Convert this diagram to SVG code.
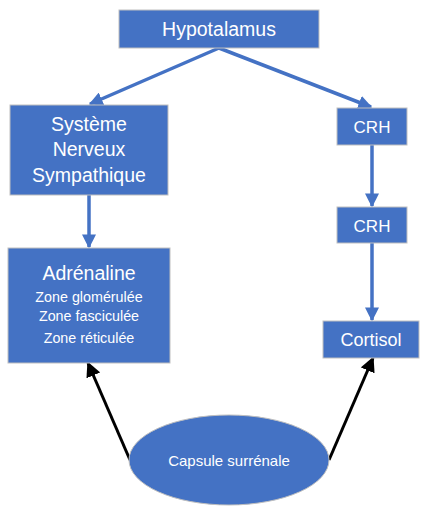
<svg xmlns="http://www.w3.org/2000/svg" width="429" height="511" viewBox="0 0 429 511">
<style>
.box{fill:#4472C4;stroke:#BFBFBF;stroke-width:1}
.t{fill:#FFFFFF;font-family:"Liberation Sans",Arial,sans-serif;text-anchor:middle}
.b{stroke:#4472C4;stroke-width:3.5;fill:none}
.k{stroke:#000000;stroke-width:3;fill:none}
</style>
<defs>
<marker id="ab" viewBox="0 0 10 10" refX="9" refY="5" markerWidth="4" markerHeight="4" orient="auto" markerUnits="strokeWidth"><path d="M0,0 L10,5 L0,10 z" fill="#4472C4"/></marker>
<marker id="ak" viewBox="0 0 10 10" refX="9" refY="5" markerWidth="5" markerHeight="5" orient="auto" markerUnits="strokeWidth"><path d="M0,0 L10,5 L0,10 z" fill="#000000"/></marker>
</defs>
<rect width="429" height="511" fill="#FFFFFF"/>
<g id="connectors">
<line class="b" x1="219" y1="48" x2="90" y2="104" marker-end="url(#ab)"/>
<line class="b" x1="219" y1="48" x2="371" y2="107" marker-end="url(#ab)"/>
<line class="b" x1="89" y1="195" x2="89" y2="247" marker-end="url(#ab)"/>
<line class="b" x1="372" y1="145" x2="372" y2="206" marker-end="url(#ab)"/>
<line class="b" x1="372" y1="243" x2="372" y2="320" marker-end="url(#ab)"/>
<line class="k" x1="130" y1="460" x2="88" y2="363" marker-end="url(#ak)"/>
<line class="k" x1="329" y1="460" x2="373" y2="358" marker-end="url(#ak)"/>
</g>
<g id="hypotalamus">
<rect class="box" x="119" y="10" width="200" height="38"/>
<text class="t" x="219" y="36" font-size="19.5">Hypotalamus</text>
</g>
<g id="systeme">
<rect class="box" x="10" y="105" width="158" height="90"/>
<text class="t" x="89" y="131" font-size="19.5">Système</text>
<text class="t" x="89" y="156" font-size="19.5">Nerveux</text>
<text class="t" x="89" y="182" font-size="19.5">Sympathique</text>
</g>
<g id="adrenaline">
<rect class="box" x="8" y="248" width="162" height="115"/>
<text class="t" x="89" y="280" font-size="19.5">Adrénaline</text>
<text class="t" x="89" y="302" font-size="14.3">Zone glomérulée</text>
<text class="t" x="89" y="321" font-size="14.3">Zone fasciculée</text>
<text class="t" x="89" y="343" font-size="14.3">Zone réticulée</text>
</g>
<g id="crh1">
<rect class="box" x="337" y="108" width="70" height="37"/>
<text class="t" x="372" y="133" font-size="17">CRH</text>
</g>
<g id="crh2">
<rect class="box" x="337" y="207" width="70" height="36"/>
<text class="t" x="372" y="232" font-size="17">CRH</text>
</g>
<g id="cortisol">
<rect class="box" x="323" y="321" width="96" height="37"/>
<text class="t" x="371" y="346" font-size="18">Cortisol</text>
</g>
<g id="capsule">
<ellipse class="box" cx="229" cy="460" rx="100" ry="45"/>
<text class="t" x="229" y="466" font-size="15">Capsule surrénale</text>
</g>
</svg>
